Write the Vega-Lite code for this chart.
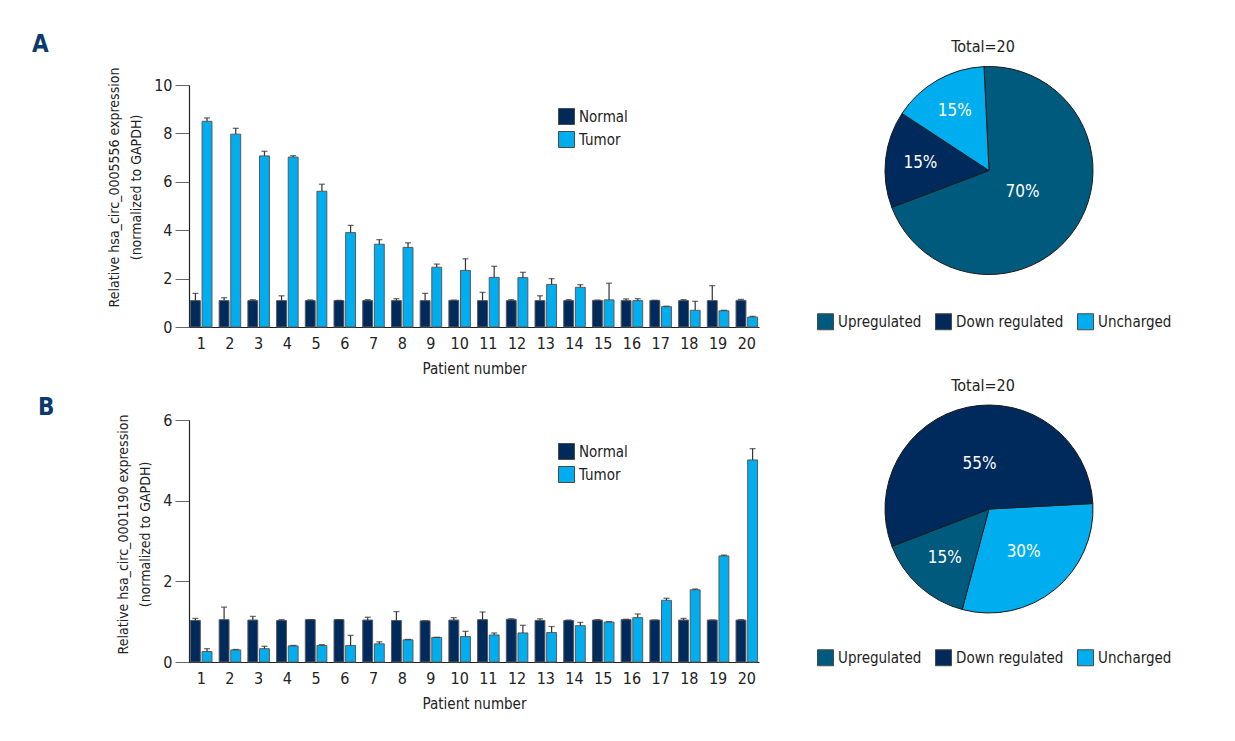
{
  "$schema": "https://vega.github.io/schema/vega-lite/v6.json",
  "padding": {"left": 32, "top": 33, "right": 5, "bottom": 5},
  "background": "#ffffff",
  "bounds": "flush",
  "columns": 2,
  "spacing": {"row": 93, "column": 126},
  "datasets": {
    "exprA": [
      {"patient": 1, "group": "Normal", "value": 1.09, "hi": 1.39},
      {"patient": 1, "group": "Tumor", "value": 8.5, "hi": 8.64},
      {"patient": 2, "group": "Normal", "value": 1.09, "hi": 1.21},
      {"patient": 2, "group": "Tumor", "value": 7.97, "hi": 8.21},
      {"patient": 3, "group": "Normal", "value": 1.09, "hi": 1.13},
      {"patient": 3, "group": "Tumor", "value": 7.07, "hi": 7.26},
      {"patient": 4, "group": "Normal", "value": 1.09, "hi": 1.29},
      {"patient": 4, "group": "Tumor", "value": 7.02, "hi": 7.08},
      {"patient": 5, "group": "Normal", "value": 1.09, "hi": 1.12},
      {"patient": 5, "group": "Tumor", "value": 5.61, "hi": 5.9},
      {"patient": 6, "group": "Normal", "value": 1.09, "hi": 1.1},
      {"patient": 6, "group": "Tumor", "value": 3.9, "hi": 4.2},
      {"patient": 7, "group": "Normal", "value": 1.09, "hi": 1.13},
      {"patient": 7, "group": "Tumor", "value": 3.42, "hi": 3.61},
      {"patient": 8, "group": "Normal", "value": 1.09, "hi": 1.17},
      {"patient": 8, "group": "Tumor", "value": 3.29, "hi": 3.48},
      {"patient": 9, "group": "Normal", "value": 1.09, "hi": 1.39},
      {"patient": 9, "group": "Tumor", "value": 2.47, "hi": 2.6},
      {"patient": 10, "group": "Normal", "value": 1.1, "hi": 1.11},
      {"patient": 10, "group": "Tumor", "value": 2.34, "hi": 2.82},
      {"patient": 11, "group": "Normal", "value": 1.09, "hi": 1.43},
      {"patient": 11, "group": "Tumor", "value": 2.05, "hi": 2.51},
      {"patient": 12, "group": "Normal", "value": 1.09, "hi": 1.13},
      {"patient": 12, "group": "Tumor", "value": 2.04, "hi": 2.26},
      {"patient": 13, "group": "Normal", "value": 1.09, "hi": 1.29},
      {"patient": 13, "group": "Tumor", "value": 1.76, "hi": 2.0},
      {"patient": 14, "group": "Normal", "value": 1.09, "hi": 1.13},
      {"patient": 14, "group": "Tumor", "value": 1.64, "hi": 1.75},
      {"patient": 15, "group": "Normal", "value": 1.1, "hi": 1.11},
      {"patient": 15, "group": "Tumor", "value": 1.12, "hi": 1.81},
      {"patient": 16, "group": "Normal", "value": 1.09, "hi": 1.16},
      {"patient": 16, "group": "Tumor", "value": 1.09, "hi": 1.17},
      {"patient": 17, "group": "Normal", "value": 1.1, "hi": 1.1},
      {"patient": 17, "group": "Tumor", "value": 0.84, "hi": 0.86},
      {"patient": 18, "group": "Normal", "value": 1.09, "hi": 1.13},
      {"patient": 18, "group": "Tumor", "value": 0.69, "hi": 1.06},
      {"patient": 19, "group": "Normal", "value": 1.09, "hi": 1.71},
      {"patient": 19, "group": "Tumor", "value": 0.67, "hi": 0.69},
      {"patient": 20, "group": "Normal", "value": 1.1, "hi": 1.14},
      {"patient": 20, "group": "Tumor", "value": 0.41, "hi": 0.44}
    ],
    "exprB": [
      {"patient": 1, "group": "Normal", "value": 1.03, "hi": 1.08},
      {"patient": 1, "group": "Tumor", "value": 0.26, "hi": 0.33},
      {"patient": 2, "group": "Normal", "value": 1.05, "hi": 1.36},
      {"patient": 2, "group": "Tumor", "value": 0.3, "hi": 0.31},
      {"patient": 3, "group": "Normal", "value": 1.04, "hi": 1.13},
      {"patient": 3, "group": "Tumor", "value": 0.33, "hi": 0.39},
      {"patient": 4, "group": "Normal", "value": 1.03, "hi": 1.05},
      {"patient": 4, "group": "Tumor", "value": 0.4, "hi": 0.41},
      {"patient": 5, "group": "Normal", "value": 1.05, "hi": 1.05},
      {"patient": 5, "group": "Tumor", "value": 0.41, "hi": 0.43},
      {"patient": 6, "group": "Normal", "value": 1.05, "hi": 1.05},
      {"patient": 6, "group": "Tumor", "value": 0.41, "hi": 0.66},
      {"patient": 7, "group": "Normal", "value": 1.04, "hi": 1.11},
      {"patient": 7, "group": "Tumor", "value": 0.45, "hi": 0.5},
      {"patient": 8, "group": "Normal", "value": 1.03, "hi": 1.25},
      {"patient": 8, "group": "Tumor", "value": 0.55, "hi": 0.56},
      {"patient": 9, "group": "Normal", "value": 1.02, "hi": 1.02},
      {"patient": 9, "group": "Tumor", "value": 0.61, "hi": 0.61},
      {"patient": 10, "group": "Normal", "value": 1.04, "hi": 1.1},
      {"patient": 10, "group": "Tumor", "value": 0.63, "hi": 0.76},
      {"patient": 11, "group": "Normal", "value": 1.05, "hi": 1.24},
      {"patient": 11, "group": "Tumor", "value": 0.67, "hi": 0.72},
      {"patient": 12, "group": "Normal", "value": 1.06, "hi": 1.07},
      {"patient": 12, "group": "Tumor", "value": 0.72, "hi": 0.91},
      {"patient": 13, "group": "Normal", "value": 1.03, "hi": 1.07},
      {"patient": 13, "group": "Tumor", "value": 0.73, "hi": 0.88},
      {"patient": 14, "group": "Normal", "value": 1.03, "hi": 1.04},
      {"patient": 14, "group": "Tumor", "value": 0.9, "hi": 0.98},
      {"patient": 15, "group": "Normal", "value": 1.04, "hi": 1.05},
      {"patient": 15, "group": "Tumor", "value": 0.99, "hi": 1.0},
      {"patient": 16, "group": "Normal", "value": 1.05, "hi": 1.06},
      {"patient": 16, "group": "Tumor", "value": 1.1, "hi": 1.19},
      {"patient": 17, "group": "Normal", "value": 1.04, "hi": 1.04},
      {"patient": 17, "group": "Tumor", "value": 1.53, "hi": 1.58},
      {"patient": 18, "group": "Normal", "value": 1.04, "hi": 1.08},
      {"patient": 18, "group": "Tumor", "value": 1.79, "hi": 1.81},
      {"patient": 19, "group": "Normal", "value": 1.04, "hi": 1.04},
      {"patient": 19, "group": "Tumor", "value": 2.63, "hi": 2.65},
      {"patient": 20, "group": "Normal", "value": 1.04, "hi": 1.05},
      {"patient": 20, "group": "Tumor", "value": 5.01, "hi": 5.29}
    ],
    "pieA": [
      {"status": "Upregulated", "share": 0.7, "order": 1},
      {"status": "Down regulated", "share": 0.15, "order": 2},
      {"status": "Uncharged", "share": 0.15, "order": 3}
    ],
    "pieB": [
      {"status": "Uncharged", "share": 0.3, "order": 1},
      {"status": "Upregulated", "share": 0.15, "order": 2},
      {"status": "Down regulated", "share": 0.55, "order": 3}
    ]
  },
  "concat": [
    {
      "width": 570,
      "height": 242,
      "title": {"text": "A", "anchor": "start", "frame": "group", "dx": -157, "dy": 2, "offset": 12, "fontSize": 24, "fontWeight": "bold", "color": "#0b3a6e"},
      "data": {"name": "exprA"},
      "layer": [
        {
          "mark": {"type": "bar", "stroke": "#5a5a5a", "strokeWidth": 1},
          "encoding": {
            "x": {"field": "patient", "type": "ordinal", "scale": {"paddingInner": 0.25, "paddingOuter": 0.05},
                  "axis": {"title": "Patient number", "labelAngle": 0, "ticks": false, "labelPadding": 8, "titlePadding": 10}},
            "xOffset": {"field": "group", "scale": {"paddingInner": 0.15}},
            "y": {"field": "value", "type": "quantitative", "scale": {"domain": [0, 10], "nice": false},
                  "axis": {"values": [0, 2, 4, 6, 8, 10], "titleY": 102, "title": ["Relative hsa_circ_0005556 expression", "(normalized to GAPDH)"]}},
            "color": {"field": "group", "type": "nominal",
                      "scale": {"domain": ["Normal", "Tumor"], "range": ["#002a5c", "#00aeef"]},
                      "legend": {"orient": "none", "legendX": 369, "legendY": 23, "title": null}}
          }
        },
        {
          "mark": {"type": "rule", "color": "#333333", "strokeWidth": 1.2},
          "encoding": {
            "x": {"field": "patient", "type": "ordinal"},
            "xOffset": {"field": "group"},
            "y": {"field": "value", "type": "quantitative"},
            "y2": {"field": "hi"}
          }
        },
        {
          "mark": {"type": "tick", "color": "#333333", "size": 6, "thickness": 1.3},
          "encoding": {
            "x": {"field": "patient", "type": "ordinal"},
            "xOffset": {"field": "group"},
            "y": {"field": "hi", "type": "quantitative"}
          }
        }
      ]
    },
    {
      "width": 208,
      "height": 171,
      "title": {"text": "Total=20", "dx": -6, "offset": 10},
      "data": {"name": "pieA"},
      "layer": [
        {
          "mark": {"type": "arc", "outerRadius": 104, "stroke": "#1a1a1a", "strokeWidth": 1},
          "encoding": {
            "theta": {"field": "share", "type": "quantitative", "stack": true, "scale": {"range": [-0.048, 6.235]}},
            "order": {"field": "order", "type": "quantitative"},
            "color": {"field": "status", "type": "nominal",
                      "scale": {"domain": ["Upregulated", "Down regulated", "Uncharged"], "range": ["#005a7d", "#002a5c", "#00aeef"]},
                      "legend": {"orient": "none", "direction": "horizontal", "legendX": -68, "legendY": 228, "title": null}}
          }
        },
        {
          "mark": {"type": "text", "color": "#ffffff", "fontSize": 17},
          "encoding": {
            "theta": {"field": "share", "type": "quantitative", "stack": true},
            "radius": {"field": "share", "type": "quantitative", "scale": {"type": "linear", "domain": [0.15, 0.3, 0.7], "range": [69, 55, 40], "zero": false}},
            "order": {"field": "order", "type": "quantitative"},
            "text": {"field": "share", "type": "quantitative", "format": ".0%"}
          }
        }
      ]
    },
    {
      "width": 570,
      "height": 242,
      "title": {"text": "B", "anchor": "start", "frame": "group", "dx": -151, "dy": 20, "offset": 12, "fontSize": 24, "fontWeight": "bold", "color": "#0b3a6e"},
      "data": {"name": "exprB"},
      "layer": [
        {
          "mark": {"type": "bar", "stroke": "#5a5a5a", "strokeWidth": 1},
          "encoding": {
            "x": {"field": "patient", "type": "ordinal", "scale": {"paddingInner": 0.25, "paddingOuter": 0.05},
                  "axis": {"title": "Patient number", "labelAngle": 0, "ticks": false, "labelPadding": 8, "titlePadding": 10}},
            "xOffset": {"field": "group", "scale": {"paddingInner": 0.15}},
            "y": {"field": "value", "type": "quantitative", "scale": {"domain": [0, 6], "nice": false},
                  "axis": {"values": [0, 2, 4, 6], "titleY": 114, "title": ["Relative hsa_circ_0001190 expression", "(normalized to GAPDH)"]}},
            "color": {"field": "group", "type": "nominal",
                      "scale": {"domain": ["Normal", "Tumor"], "range": ["#002a5c", "#00aeef"]},
                      "legend": {"orient": "none", "legendX": 369, "legendY": 23, "title": null}}
          }
        },
        {
          "mark": {"type": "rule", "color": "#333333", "strokeWidth": 1.2},
          "encoding": {
            "x": {"field": "patient", "type": "ordinal"},
            "xOffset": {"field": "group"},
            "y": {"field": "value", "type": "quantitative"},
            "y2": {"field": "hi"}
          }
        },
        {
          "mark": {"type": "tick", "color": "#333333", "size": 6, "thickness": 1.3},
          "encoding": {
            "x": {"field": "patient", "type": "ordinal"},
            "xOffset": {"field": "group"},
            "y": {"field": "hi", "type": "quantitative"}
          }
        }
      ]
    },
    {
      "width": 208,
      "height": 178,
      "title": {"text": "Total=20", "dx": -6, "offset": 9},
      "data": {"name": "pieB"},
      "layer": [
        {
          "mark": {"type": "arc", "outerRadius": 104, "stroke": "#1a1a1a", "strokeWidth": 1},
          "encoding": {
            "theta": {"field": "share", "type": "quantitative", "stack": true, "scale": {"range": [1.518, 7.801]}},
            "order": {"field": "order", "type": "quantitative"},
            "color": {"field": "status", "type": "nominal",
                      "scale": {"domain": ["Upregulated", "Down regulated", "Uncharged"], "range": ["#005a7d", "#002a5c", "#00aeef"]},
                      "legend": {"orient": "none", "direction": "horizontal", "legendX": -68, "legendY": 229, "title": null}}
          }
        },
        {
          "mark": {"type": "text", "color": "#ffffff", "fontSize": 17},
          "encoding": {
            "theta": {"field": "share", "type": "quantitative", "stack": true},
            "radius": {"field": "share", "type": "quantitative", "scale": {"type": "linear", "domain": [0.15, 0.3, 0.7], "range": [66, 55, 40], "zero": false}},
            "order": {"field": "order", "type": "quantitative"},
            "text": {"field": "share", "type": "quantitative", "format": ".0%"}
          }
        }
      ]
    }
  ],
  "resolve": {"scale": {"color": "independent", "theta": "independent", "radius": "independent", "x": "independent", "y": "independent"}},
  "config": {
    "font": "DejaVu Sans Condensed, Roboto, sans-serif",
    "view": {"stroke": null},
    "axis": {
      "labelFont": "DejaVu Sans Condensed, Roboto, sans-serif",
      "titleFont": "DejaVu Sans Condensed, Roboto, sans-serif",
      "labelFontSize": 16,
      "titleFontSize": 15,
      "titleFontWeight": "normal",
      "labelColor": "#222222",
      "titleColor": "#222222",
      "domainColor": "#222222",
      "domainWidth": 1.2,
      "grid": false
    },
    "axisY": {"tickSize": 14, "tickColor": "#666666", "tickWidth": 1, "labelPadding": 3, "titlePadding": 10, "titleFontSize": 14, "titleLineHeight": 22},
    "legend": {
      "labelFont": "DejaVu Sans Condensed, Roboto, sans-serif",
      "labelFontSize": 15,
      "labelColor": "#222222",
      "labelOffset": 4,
      "symbolType": "square",
      "symbolSize": 256,
      "symbolStrokeColor": "#4a4a4a",
      "symbolStrokeWidth": 1,
      "symbolOpacity": 1,
      "rowPadding": 2,
      "columnPadding": 11,
      "padding": 0
    },
    "title": {"font": "DejaVu Sans Condensed, Roboto, sans-serif", "fontSize": 16, "fontWeight": "normal", "color": "#222222"}
  }
}
